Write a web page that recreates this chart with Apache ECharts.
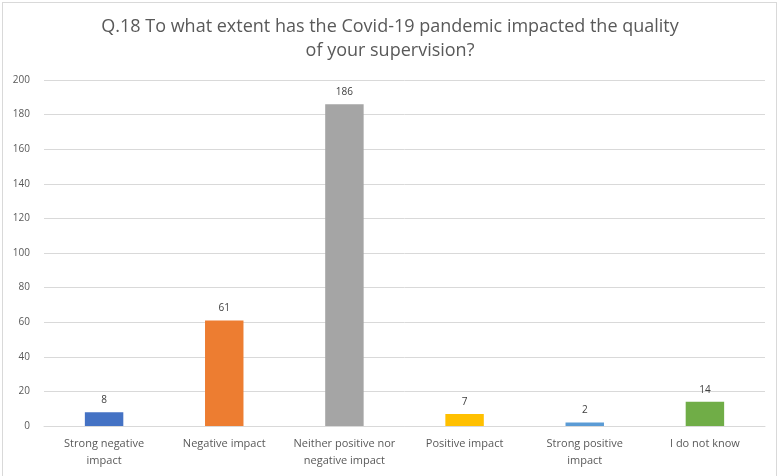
<!DOCTYPE html>
<html>
<head>
<meta charset="utf-8">
<script src="https://cdn.jsdelivr.net/npm/echarts@6/dist/echarts.min.js"></script>
<style>
  html, body { margin: 0; padding: 0; background: #fff; }
  #chart { position: absolute; left: 0; top: 0; width: 780px; height: 476px; }
  #frame { position: absolute; left: 2px; top: 2px; width: 775px; height: 480px;
           border: 1px solid #d9d9d9; box-sizing: border-box; pointer-events: none; }
</style>
</head>
<body>
<div id="chart"></div>
<div id="frame"></div>
<script>
// Survey responses for Q.18
const categories = [
  'Strong negative\nimpact',
  'Negative impact',
  'Neither positive nor\nnegative impact',
  'Positive impact',
  'Strong positive\nimpact',
  'I do not know'
];
const responses = [8, 61, 186, 7, 2, 14];
const barColors = ['#4472C4', '#ED7D31', '#A5A5A5', '#FFC000', '#5B9BD5', '#70AD47'];
const titleText = 'Q.18 To what extent has the Covid-19 pandemic impacted the quality\nof your supervision?';

const chart = echarts.init(document.getElementById('chart'), null, { renderer: 'canvas' });
const font = '"Open Sans", "Noto Sans", sans-serif';

chart.setOption({
  animation: false,
  backgroundColor: '#ffffff',
  title: {
    text: titleText,
    left: 'center',
    top: 10,
    textStyle: {
      fontFamily: font,
      fontSize: 18,
      fontWeight: 'normal',
      color: '#595959',
      lineHeight: 24
    }
  },
  grid: { left: 44, right: 15, top: 80, bottom: 50, containLabel: false },
  xAxis: {
    type: 'category',
    data: categories,
    axisLine: { show: true, lineStyle: { color: '#d9d9d9', width: 1 } },
    axisTick: { show: false },
    axisLabel: {
      interval: 0,
      color: '#595959',
      fontFamily: font,
      fontSize: 11,
      lineHeight: 17,
      margin: 9
    }
  },
  yAxis: {
    type: 'value',
    min: 0,
    max: 200,
    interval: 20,
    axisLine: { show: false },
    axisTick: { show: false },
    axisLabel: {
      color: '#595959',
      fontFamily: font,
      fontSize: 10,
      margin: 14
    },
    splitLine: { lineStyle: { color: '#d9d9d9', width: 1 } }
  },
  series: [{
    type: 'bar',
    barWidth: '32%',
    data: responses.map((v, i) => ({ value: v, itemStyle: { color: barColors[i] } })),
    label: {
      show: true,
      position: 'top',
      distance: 7,
      color: '#404040',
      fontFamily: font,
      fontSize: 10
    }
  }]
});
</script>
</body>
</html>
